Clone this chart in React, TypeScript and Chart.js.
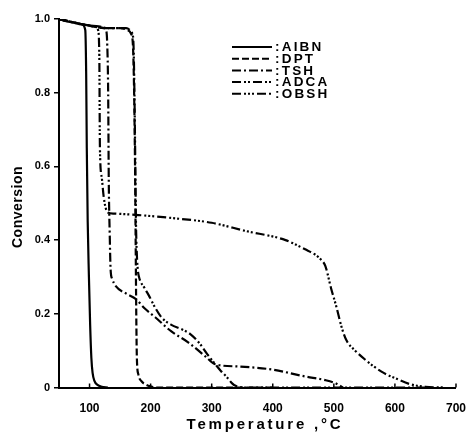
import { useEffect, useRef } from "react";
import { Chart, registerables } from "chart.js";

Chart.register(...registerables);

const seriesNames = ["AIBN", "DPT", "TSH", "ADCA", "OBSH"];

const aibnTemp = [50, 60, 75, 88, 93, 94.5, 95.5, 97, 99, 101, 103, 105, 108, 113, 120, 130];
const aibnConv = [1.0, 0.995, 0.99, 0.985, 0.97, 0.85, 0.65, 0.45, 0.3, 0.17, 0.08, 0.04, 0.018, 0.007, 0.002, 0];

const dptTemp = [50, 90, 130, 150, 162, 168, 171, 173, 174.5, 175.5, 176.5, 177.5, 180, 185, 192, 200, 210, 400];
const dptConv = [1.0, 0.985, 0.975, 0.975, 0.97, 0.96, 0.93, 0.8, 0.6, 0.4, 0.2, 0.08, 0.035, 0.017, 0.008, 0.003, 0, 0];

const tshTemp = [50, 90, 115, 122, 127, 129, 130.5, 131.5, 133, 134.5, 137, 143, 160, 176, 190, 208, 234, 262, 290, 306, 344, 398, 453, 486, 502, 515];
const tshConv = [1.0, 0.985, 0.98, 0.978, 0.97, 0.93, 0.8, 0.56, 0.42, 0.32, 0.295, 0.275, 0.255, 0.24, 0.215, 0.19, 0.152, 0.122, 0.084, 0.063, 0.057, 0.049, 0.03, 0.02, 0.012, 0];

const adcaTemp = [50, 90, 130, 160, 166, 170, 172, 173.5, 175, 176, 177.5, 179, 181, 190, 197, 208, 218, 234, 251, 265, 280, 293, 306, 315, 325, 333, 340, 355, 650];
const adcaConv = [1.0, 0.985, 0.975, 0.975, 0.97, 0.96, 0.93, 0.8, 0.6, 0.45, 0.36, 0.32, 0.3, 0.27, 0.25, 0.215, 0.19, 0.17, 0.158, 0.145, 0.12, 0.09, 0.063, 0.045, 0.028, 0.012, 0.004, 0, 0];

const obshTemp = [50, 90, 110, 114, 116, 117, 120, 123, 126, 130, 140, 180, 234, 300, 355, 421, 453, 470, 480, 486, 496, 504, 512, 520, 535, 551, 578, 605, 627, 650, 680];
const obshConv = [1.0, 0.985, 0.98, 0.97, 0.9, 0.65, 0.57, 0.52, 0.49, 0.475, 0.472, 0.468, 0.46, 0.447, 0.425, 0.4, 0.375, 0.36, 0.345, 0.33, 0.266, 0.22, 0.168, 0.13, 0.1, 0.076, 0.043, 0.022, 0.008, 0.002, 0];

const xTickValues = [100, 200, 300, 400, 500, 600, 700];
const xTickLabels = ["100", "200", "300", "400", "500", "600", "700"];
const yTickValues = [0, 0.2, 0.4, 0.6, 0.8, 1.0];
const yTickLabels = ["0", "0.2", "0.4", "0.6", "0.8", "1.0"];

const xTitle = "Temperature ,°C";
const yTitle = "Conversion";

const dashes: number[][] = [[], [7, 3], [9, 3, 2, 3], [9, 3, 2, 2, 2, 3], [9, 3, 2, 2, 2, 2, 2, 3]];

const FONT = '"Liberation Sans", Arial, Helvetica, sans-serif';

function pts(t: number[], c: number[]) {
  return t.map((v, i) => ({ x: v, y: c[i] }));
}

const decor = {
  id: "decor",
  afterDraw(chart: any) {
    const { ctx, chartArea, scales } = chart;
    const xs = scales.x;
    ctx.save();
    ctx.strokeStyle = "#000";
    ctx.fillStyle = "#000";
    ctx.lineWidth = 1.5;
    xTickValues.forEach((v) => {
      const px = xs.getPixelForValue(v);
      ctx.beginPath();
      ctx.moveTo(px, chartArea.bottom);
      ctx.lineTo(px, chartArea.bottom - 4);
      ctx.stroke();
    });
    chart.data.datasets.forEach((ds: any, i: number) => {
      const y = 47 + i * 11.7;
      ctx.setLineDash(ds.borderDash || []);
      ctx.lineWidth = 2;
      ctx.beginPath();
      ctx.moveTo(232, y);
      ctx.lineTo(272, y);
      ctx.stroke();
      ctx.setLineDash([]);
      ctx.font = `bold 13.5px ${FONT}`;
      ctx.letterSpacing = "2.2px";
      ctx.textBaseline = "middle";
      ctx.textAlign = "left";
      ctx.fillText(":" + seriesNames[i], 275, y + 0.5);
    });
    ctx.font = `bold 15px ${FONT}`;
    ctx.letterSpacing = "2.8px";
    ctx.textAlign = "center";
    ctx.textBaseline = "middle";
    ctx.fillText(xTitle, 265, 425);
    ctx.save();
    ctx.translate(18, 207);
    ctx.rotate(-Math.PI / 2);
    ctx.letterSpacing = "0.5px";
    ctx.font = `bold 14px ${FONT}`;
    ctx.fillText(yTitle, 0, 0);
    ctx.restore();
    ctx.restore();
  },
};

export default function App() {
  const ref = useRef<HTMLCanvasElement>(null);
  useEffect(() => {
    const canvas = ref.current!;
    const series = [
      pts(aibnTemp, aibnConv),
      pts(dptTemp, dptConv),
      pts(tshTemp, tshConv),
      pts(adcaTemp, adcaConv),
      pts(obshTemp, obshConv),
    ];
    const chart = new Chart(canvas, {
      type: "line",
      data: {
        datasets: series.map((d, i) => ({
          label: seriesNames[i],
          data: d,
          borderColor: "#000",
          borderWidth: 2.2,
          borderDash: dashes[i],
          pointRadius: 0,
          fill: false,
          cubicInterpolationMode: "monotone" as const,
        })),
      },
      options: {
        animation: false,
        responsive: false,
        devicePixelRatio: 1,
        layout: { padding: { left: 0, right: 14, top: 19, bottom: 0 } },
        plugins: { legend: { display: false }, tooltip: { enabled: false } },
        scales: {
          x: {
            type: "linear",
            min: 50,
            max: 700,
            afterFit: (s: any) => {
              s.height = 52.5;
            },
            afterBuildTicks: (s: any) => {
              s.ticks = xTickValues.map((v) => ({ value: v }));
            },
            ticks: {
              color: "#000",
              padding: 6,
              font: { family: FONT, size: 12, weight: "bold" },
              callback: (v: any) => {
                const i = xTickValues.indexOf(Number(v));
                return i >= 0 ? xTickLabels[i] : "";
              },
            },
            grid: { display: false },
            border: { display: true, color: "#000", width: 2 },
          },
          y: {
            type: "linear",
            min: 0,
            max: 1,
            afterFit: (s: any) => {
              s.width = 59;
            },
            afterBuildTicks: (s: any) => {
              s.ticks = yTickValues.map((v) => ({ value: v }));
            },
            ticks: {
              color: "#000",
              padding: 4,
              font: { family: FONT, size: 11, weight: "bold" },
              callback: (v: any) => {
                const i = yTickValues.findIndex((t) => Math.abs(t - Number(v)) < 1e-6);
                return i >= 0 ? yTickLabels[i] : "";
              },
            },
            grid: { display: true, drawOnChartArea: false, drawTicks: true, tickLength: 5, color: "#000", lineWidth: 1.5 },
            border: { display: true, color: "#000", width: 2 },
          },
        },
      },
      plugins: [decor],
    });
    return () => chart.destroy();
  }, []);
  return (
    <div style={{ position: "fixed", left: 0, top: 0, width: 472, height: 440, background: "#fff" }}>
      <canvas ref={ref} width={472} height={440} style={{ width: 472, height: 440, display: "block" }} />
    </div>
  );
}
